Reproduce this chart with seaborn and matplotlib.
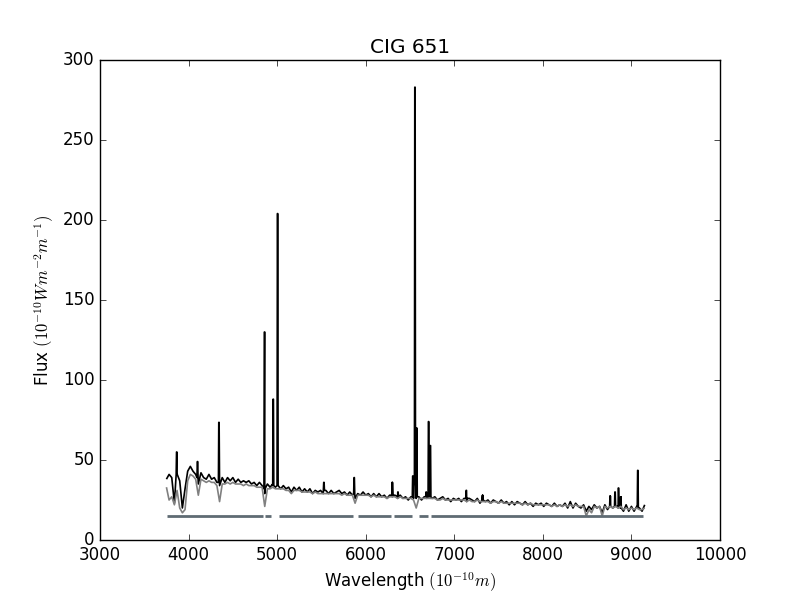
import numpy as np
import pandas as pd
import matplotlib
matplotlib.use("Agg")
import matplotlib.pyplot as plt
import seaborn as sns

# ---- data ----
grid_start, grid_step, grid_stop = 3750, 30, 9150

flux_obs = [
    38, 41, 39, 23, 42, 37, 20, 32, 43, 46,
    43, 41, 35, 42, 39, 38, 41, 38, 39, 36,
    34, 39, 36, 39, 37, 39, 36, 38, 36, 37,
    36, 37, 35, 36, 34, 36, 34, 29, 35, 33,
    35, 33, 34, 32, 34, 32, 33, 30, 33, 31,
    33, 30, 32, 30, 32, 29, 31, 30, 31, 29,
    31, 29, 31, 29, 30, 31, 29, 30, 28, 30,
    28, 26, 29, 28, 30, 28, 29, 27, 29, 27,
    29, 27, 28, 26, 28, 27, 28, 26, 28, 26,
    27, 25, 27, 26, 26, 27, 25, 27, 26, 27,
    26, 27, 25, 26, 27, 25, 26, 24, 26, 25,
    26, 24, 26, 24, 26, 25, 24, 26, 23, 25,
    24, 25, 23, 25, 24, 23, 25, 23, 24, 22,
    24, 22, 24, 23, 22, 24, 22, 23, 21, 23,
    22, 23, 21, 23, 22, 21, 23, 21, 22, 21,
    23, 20, 24, 20, 23, 21, 20, 22, 18, 21,
    19, 22, 20, 21, 17, 22, 19, 23, 20, 23,
    20, 24, 18, 22, 18, 21, 18, 21, 20, 18, 22,
]

flux_model = [
    33, 25, 27, 22, 31, 20, 17, 19, 37, 41,
    40, 38, 28, 38, 37, 36, 37, 36, 36, 34,
    24, 35, 35, 36, 35, 36, 35, 35, 35, 34,
    35, 34, 34, 34, 33, 33, 33, 21, 32, 32,
    33, 32, 32, 32, 32, 31, 31, 29, 31, 31,
    31, 30, 30, 30, 30, 29, 30, 29, 29, 29,
    29, 29, 29, 29, 29, 29, 28, 29, 28, 28,
    28, 23, 28, 28, 28, 28, 28, 27, 28, 27,
    27, 27, 27, 26, 27, 27, 27, 26, 27, 26,
    26, 26, 26, 25, 20, 26, 26, 26, 26, 26,
    26, 26, 25, 25, 26, 25, 25, 25, 25, 25,
    25, 25, 25, 24, 25, 24, 24, 25, 24, 24,
    24, 24, 23, 24, 24, 23, 24, 23, 23, 23,
    23, 23, 23, 23, 22, 23, 22, 23, 22, 22,
    22, 22, 22, 22, 22, 21, 22, 21, 22, 21,
    22, 21, 22, 21, 22, 21, 21, 21, 15, 19,
    17, 21, 20, 21, 15, 21, 20, 21, 20, 21,
    20, 21, 19, 20, 19, 20, 19, 20, 19, 19, 20,
]

# emission lines: centre, peak flux, local continuum
line_wave = [3866, 4101, 4343, 4858, 4956, 5005, 5528, 5870, 6300, 6364,
             6532, 6556, 6576, 6683, 6710, 6730, 7136, 7320, 8760, 8815,
             8854, 8880, 9072]
line_peak = [55, 49, 73.5, 130, 88, 204, 36, 39, 36, 30,
             40, 283, 70, 30, 74, 59, 31, 28, 27.5, 30,
             32.5, 27, 43.5]
line_base = [41, 39, 36, 32, 34, 34, 31, 29, 28, 27,
             27, 40, 27, 27, 27, 27, 26, 25, 21, 21,
             21, 20, 20]

# good-pixel mask segments at the bottom
mask_start = [3757, 4866, 5016, 5908, 6314, 6596, 6742]
mask_end = [4838, 4936, 5858, 6280, 6528, 6700, 9131]
mask_level = 15

# ---- build tables ----
wave_grid = np.arange(grid_start, grid_stop + 1, grid_step)
obs = pd.DataFrame({"wave": wave_grid, "flux": flux_obs})
spk_w, spk_f = [], []
for c, p, b in zip(line_wave, line_peak, line_base):
    spk_w += [c - 6, c - 2, c + 2, c + 6]
    spk_f += [b, p, p, b]
obs = pd.concat([obs, pd.DataFrame({"wave": spk_w, "flux": spk_f})])
obs = obs.sort_values("wave").reset_index(drop=True)

model = pd.DataFrame({"wave": wave_grid, "flux": flux_model})

mw, mf, mu = [], [], []
for i, (s, e) in enumerate(zip(mask_start, mask_end)):
    mw += [s, e]
    mf += [mask_level, mask_level]
    mu += [i, i]
mask = pd.DataFrame({"wave": mw, "flux": mf, "seg": mu})

# ---- plot ----
plt.style.use("classic")
plt.rcParams["figure.facecolor"] = "white"
plt.rcParams["savefig.facecolor"] = "white"
plt.rcParams["lines.solid_capstyle"] = "butt"

fig, ax = plt.subplots(figsize=(8, 6), dpi=100)
fig.subplots_adjust(left=0.125, right=0.9, bottom=0.1, top=0.9)

sns.lineplot(data=obs, x="wave", y="flux", sort=False, estimator=None,
             color="black", linewidth=1.2, ax=ax, legend=False)
sns.lineplot(data=model, x="wave", y="flux", sort=False, estimator=None,
             color="#808080", linewidth=1.2, ax=ax, legend=False)
sns.lineplot(data=mask, x="wave", y="flux", units="seg", sort=False,
             estimator=None, color="#5f6b73", linewidth=2, ax=ax, legend=False)

ax.set_xlim(3000, 10000)
ax.set_ylim(0, 300)
ax.set_title("CIG 651")
ax.set_xlabel(r"Wavelength $(10^{-10} m)$")
ax.set_ylabel(r"Flux $(10^{-10} W m^{-2} m^{-1})$")

fig.savefig("out.png", dpi=100)
